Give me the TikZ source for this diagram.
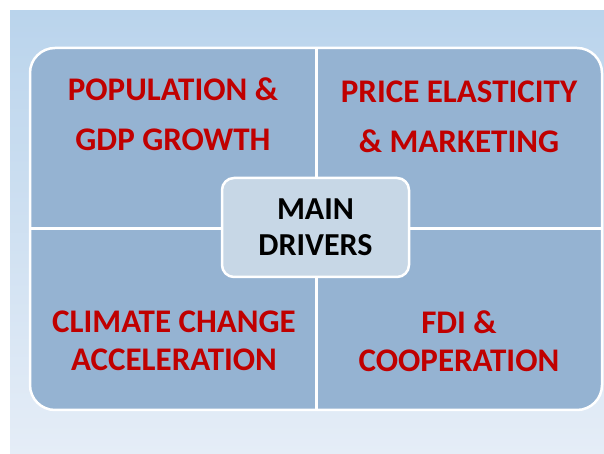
\documentclass[tikz,border=0pt]{standalone}
\usepackage{fontspec}
\setmainfont{Carlito}
\definecolor{fondoarriba}{HTML}{BAD4EC}
\definecolor{fondoabajo}{HTML}{E5EDF7}
\definecolor{cuadro}{HTML}{95B3D2}
\definecolor{centro}{HTML}{C7D7E6}
\definecolor{rojo}{HTML}{C00000}
\tikzset{
  texto/.style={align=center,text=rojo,font=\bfseries\fontsize{33}{50}\selectfont},
  textoabajo/.style={texto,font=\bfseries\fontsize{33}{38}\selectfont},
  caja/.style={draw=white,line width=2.5pt,fill=centro,rounded corners=12pt,
    minimum width=187pt,minimum height=99pt,align=center,
    font=\bfseries\fontsize{32}{36}\selectfont}
}
\begin{document}
\begin{tikzpicture}[x=1pt,y=1pt]
\useasboundingbox (0,0) rectangle (604,454);
% Fondo con degradado
\shade[top color=fondoarriba,bottom color=fondoabajo] (10,0) rectangle (604,443);
% Los cuatro cuadrantes
\draw[white,line width=2.5pt,fill=cuadro,rounded corners=25pt] (30,44) rectangle (602,406);
\draw[white,line width=3pt] (316,44) -- (316,406);
\draw[white,line width=3pt] (30,225) -- (602,225);
\node[texto] (pop) at (173,340) {POPULATION \&\\GDP GROWTH};
\node[texto] (price) at (459,337) {PRICE ELASTICITY\\\& MARKETING};
\node[textoabajo] (climate) at (174,113) {CLIMATE CHANGE\\ACCELERATION};
\node[textoabajo] (fdi) at (459,113) {FDI \&\\COOPERATION};
% Caja del centro
\node[caja] (main) at (315.5,226.5) {MAIN\\DRIVERS};
\end{tikzpicture}
\end{document}
